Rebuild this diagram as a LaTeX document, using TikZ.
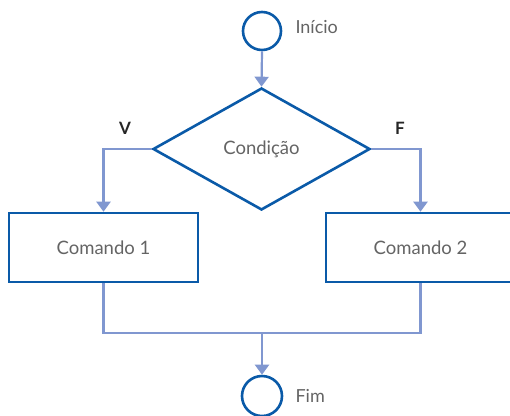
\documentclass[tikz,border=0pt]{standalone}
\usepackage{fontspec}
\setmainfont{Lato}
\usetikzlibrary{shapes.geometric,arrows.meta}
\definecolor{shapeblue}{RGB}{10,90,168}
\definecolor{linkblue}{RGB}{128,151,208}
\definecolor{txtgray}{RGB}{100,100,100}
\tikzset{
  shapeline/.style={draw=shapeblue,line width=2.6pt,fill=white},
  termnode/.style={shapeline,circle,minimum size=38pt,inner sep=0pt},
  boxnode/.style={shapeline,rectangle,minimum width=189pt,minimum height=69pt,inner sep=0pt,font=\fontsize{18.5}{20}\selectfont,text=txtgray},
  decnode/.style={shapeline,diamond,minimum width=217pt,minimum height=122pt,inner sep=0pt,font=\fontsize{18.5}{20}\selectfont,text=txtgray},
  lbl/.style={font=\fontsize{18}{20}\selectfont,text=txtgray,anchor=west},
  vf/.style={font=\fontsize{17}{20}\selectfont\bfseries,text=black!85},
  link/.style={draw=linkblue,line width=2.2pt},
  arr/.style={link,-{Triangle[width=14pt,length=10pt]}}
}
\begin{document}
\begin{tikzpicture}[x=1pt,y=-1pt]
\useasboundingbox (0,0) rectangle (510,415);
\clip (0,0) rectangle (510,415);
\node[termnode] (ini) at (262,31) {};
\node[lbl] (tini) at (292,27) {Início};
\node[decnode] (cond) at (261.5,149) {Condição};
\node[boxnode] (c1) at (103.5,247.5) {Comando 1};
\node[boxnode] (c2) at (420.5,247.5) {Comando 2};
\node[termnode,minimum size=40pt] (fim) at (262,396) {};
\node[lbl] (tfim) at (292,396) {Fim};
\node[vf] (v) at (125,128) {V};
\node[vf] (f) at (400,128) {F};
\coordinate (j) at (262,333);
\draw[arr] (ini.south) -- (cond.north);
\draw[arr] (cond.west) -| (c1.north);
\draw[arr] (cond.east) -| (c2.north);
\draw[link] (c1.south) |- (j);
\draw[link] (c2.south) |- (j);
\draw[arr] (j) -- (fim.north);
\end{tikzpicture}
\end{document}
